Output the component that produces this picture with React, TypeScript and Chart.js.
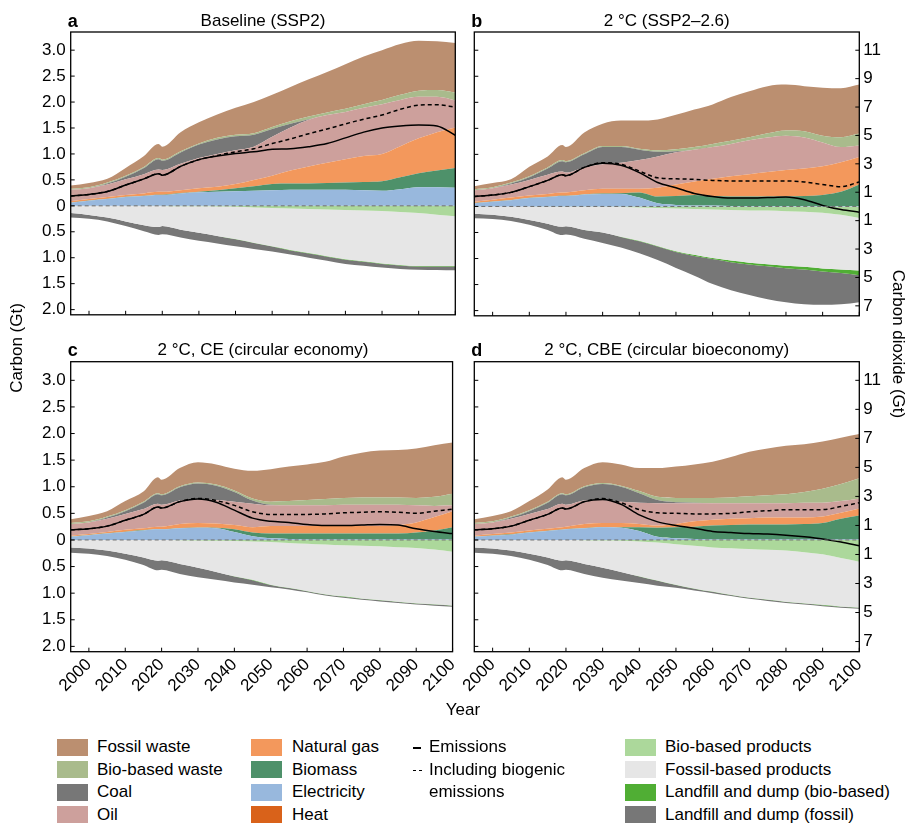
import React, { useEffect, useRef } from 'react';
import { Chart, registerables } from 'chart.js';

Chart.register(...registerables);

const FONT = "'Liberation Sans', Arial, Helvetica, sans-serif";
Chart.defaults.font.family = FONT;

// ---------------- data ----------------
const years = [1995, 2000, 2005, 2010, 2015, 2019, 2020, 2025, 2030, 2035, 2040, 2045, 2050, 2055, 2060, 2065, 2070, 2075, 2080, 2085, 2090, 2095, 2100];
const yearTicks = [2000, 2010, 2020, 2030, 2040, 2050, 2060, 2070, 2080, 2090, 2100];
const carbonTicks = [3, 2.5, 2, 1.5, 1, 0.5, 0, -0.5, -1, -1.5, -2];
const co2Ticks = [11, 9, 7, 5, 3, 1, -1, -3, -5, -7];
const CO2_PER_C = 44 / 12;

// Panel a: Baseline (SSP2)
const aHeat = [0, 0, 0, 0, 0, 0, 0, 0, 0, 0, 0, 0, 0, 0, 0, 0, 0, 0, 0, 0, 0, 0, 0];
const aElectricity = [0.06, 0.10, 0.13, 0.17, 0.19, 0.21, 0.21, 0.24, 0.26, 0.27, 0.28, 0.29, 0.30, 0.31, 0.31, 0.31, 0.31, 0.30, 0.29, 0.32, 0.36, 0.36, 0.35];
const aBiomass = [0.005, 0.005, 0.005, 0.005, 0.005, 0.005, 0.005, 0.005, 0.01, 0.03, 0.06, 0.085, 0.12, 0.12, 0.12, 0.13, 0.14, 0.16, 0.185, 0.23, 0.27, 0.32, 0.38];
const aNaturalGas = [0.025, 0.025, 0.035, 0.035, 0.045, 0.055, 0.055, 0.055, 0.07, 0.07, 0.08, 0.125, 0.16, 0.25, 0.33, 0.39, 0.45, 0.50, 0.525, 0.60, 0.67, 0.74, 0.78];
const aOil = [0.22, 0.21, 0.24, 0.30, 0.37, 0.43, 0.42, 0.51, 0.58, 0.63, 0.65, 0.64, 0.75, 0.83, 0.90, 0.92, 0.91, 0.93, 0.96, 0.89, 0.80, 0.68, 0.52];
const aCoal = [0, 0, 0.02, 0.05, 0.12, 0.20, 0.18, 0.22, 0.26, 0.28, 0.27, 0.23, 0.15, 0.07, 0.01, 0, 0, 0, 0, 0, 0, 0, 0];
const aBioWaste = [0.02, 0.02, 0.02, 0.02, 0.02, 0.02, 0.02, 0.02, 0.02, 0.03, 0.03, 0.03, 0.04, 0.05, 0.05, 0.05, 0.06, 0.07, 0.08, 0.10, 0.12, 0.13, 0.15];
const aFossilWaste = [0.06, 0.08, 0.07, 0.15, 0.21, 0.27, 0.25, 0.37, 0.41, 0.45, 0.52, 0.60, 0.62, 0.66, 0.72, 0.78, 0.86, 0.92, 0.96, 0.98, 0.96, 0.94, 0.96];
const aBioProducts = [0, 0, 0, 0, 0.005, 0.005, 0.005, 0.01, 0.01, 0.015, 0.02, 0.03, 0.04, 0.05, 0.06, 0.07, 0.08, 0.09, 0.10, 0.12, 0.14, 0.17, 0.20];
const aFossilProducts = [0.14, 0.175, 0.225, 0.30, 0.37, 0.405, 0.385, 0.45, 0.51, 0.565, 0.62, 0.68, 0.74, 0.80, 0.85, 0.90, 0.95, 0.98, 1.01, 1.02, 1.02, 0.99, 0.96];
const aLandfillBio = [0, 0, 0, 0, 0, 0, 0, 0, 0, 0, 0.005, 0.005, 0.005, 0.01, 0.01, 0.01, 0.01, 0.01, 0.01, 0.01, 0.01, 0.01, 0.01];
const aLandfillFossil = [0.085, 0.075, 0.075, 0.09, 0.115, 0.15, 0.16, 0.15, 0.155, 0.145, 0.135, 0.115, 0.095, 0.08, 0.08, 0.08, 0.08, 0.075, 0.07, 0.065, 0.06, 0.065, 0.07];
const aEmissions = [0.19, 0.22, 0.275, 0.40, 0.52, 0.62, 0.59, 0.76, 0.89, 0.96, 1.01, 1.04, 1.09, 1.10, 1.14, 1.20, 1.31, 1.42, 1.50, 1.54, 1.56, 1.54, 1.36];
const aBiogenic = [0.19, 0.22, 0.275, 0.40, 0.52, 0.62, 0.59, 0.76, 0.89, 0.97, 1.04, 1.10, 1.20, 1.29, 1.39, 1.48, 1.58, 1.67, 1.75, 1.86, 1.94, 1.95, 1.90];

// Panel b: 2 °C (SSP2-2.6)
const bHeat = [0, 0, 0, 0, 0, 0, 0, 0, 0, 0, 0, 0, 0, 0, 0, 0, 0, 0, 0, 0, 0, 0, 0];
const bElectricity = [0.06, 0.09, 0.12, 0.16, 0.18, 0.20, 0.20, 0.23, 0.24, 0.24, 0.17, 0.06, 0.03, 0.02, 0.02, 0.01, 0.01, 0.01, 0.01, 0.01, 0.01, 0.01, 0.01];
const bBiomass = [0.005, 0.005, 0.005, 0.005, 0.005, 0.005, 0.005, 0.005, 0.01, 0.015, 0.10, 0.13, 0.17, 0.20, 0.18, 0.18, 0.18, 0.18, 0.18, 0.19, 0.21, 0.27, 0.41];
const bNaturalGas = [0.025, 0.035, 0.045, 0.045, 0.055, 0.065, 0.065, 0.075, 0.09, 0.085, 0.07, 0.17, 0.22, 0.26, 0.33, 0.39, 0.43, 0.47, 0.51, 0.53, 0.55, 0.57, 0.53];
const bOil = [0.22, 0.22, 0.25, 0.30, 0.37, 0.40, 0.38, 0.44, 0.47, 0.50, 0.55, 0.60, 0.62, 0.61, 0.61, 0.62, 0.65, 0.665, 0.66, 0.595, 0.46, 0.29, 0.22];
const bCoal = [0, 0, 0.02, 0.05, 0.12, 0.20, 0.20, 0.25, 0.33, 0.30, 0.20, 0.09, 0.02, 0, 0, 0, 0, 0, 0, 0, 0, 0, 0];
const bBioWaste = [0.02, 0.02, 0.02, 0.02, 0.02, 0.02, 0.02, 0.02, 0.02, 0.02, 0.02, 0.03, 0.04, 0.05, 0.06, 0.06, 0.06, 0.08, 0.10, 0.12, 0.13, 0.19, 0.23];
const bFossilWaste = [0.06, 0.08, 0.06, 0.18, 0.21, 0.29, 0.27, 0.40, 0.43, 0.49, 0.54, 0.59, 0.66, 0.72, 0.76, 0.84, 0.88, 0.905, 0.88, 0.865, 0.92, 0.94, 0.94];
const bBioProducts = [0, 0, 0, 0, 0.005, 0.005, 0.005, 0.005, 0.005, 0.01, 0.02, 0.03, 0.04, 0.05, 0.06, 0.07, 0.08, 0.08, 0.09, 0.10, 0.12, 0.16, 0.22];
const bFossilProducts = [0.14, 0.16, 0.20, 0.26, 0.325, 0.385, 0.375, 0.445, 0.495, 0.57, 0.64, 0.73, 0.82, 0.88, 0.93, 0.97, 1.00, 1.03, 1.05, 1.06, 1.07, 1.05, 1.01];
const bLandfillBio = [0, 0, 0, 0, 0, 0, 0, 0, 0, 0.005, 0.01, 0.01, 0.015, 0.02, 0.02, 0.03, 0.035, 0.04, 0.045, 0.05, 0.06, 0.07, 0.09];
const bLandfillFossil = [0.085, 0.08, 0.08, 0.09, 0.12, 0.16, 0.16, 0.17, 0.20, 0.205, 0.23, 0.26, 0.305, 0.38, 0.48, 0.54, 0.585, 0.63, 0.655, 0.67, 0.64, 0.60, 0.52];
const bEmissions = [0.19, 0.22, 0.27, 0.38, 0.50, 0.61, 0.59, 0.75, 0.83, 0.79, 0.65, 0.46, 0.36, 0.25, 0.19, 0.16, 0.16, 0.17, 0.18, 0.13, 0.02, -0.06, -0.11];
const bBiogenic = [0.19, 0.22, 0.27, 0.38, 0.50, 0.61, 0.59, 0.75, 0.84, 0.81, 0.68, 0.55, 0.53, 0.52, 0.50, 0.49, 0.49, 0.49, 0.49, 0.47, 0.42, 0.38, 0.47];

// Panel c: 2 °C, CE
const cHeat = [0, 0, 0, 0, 0, 0, 0, 0, 0, 0, 0, 0, 0, 0, 0, 0, 0, 0, 0, 0, 0, 0, 0];
const cElectricity = [0.06, 0.09, 0.12, 0.15, 0.18, 0.20, 0.20, 0.22, 0.23, 0.22, 0.15, 0.07, 0.03, 0.02, 0.01, 0.01, 0.01, 0.01, 0.01, 0.01, 0.01, 0.01, 0.01];
const cBiomass = [0.005, 0.005, 0.005, 0.005, 0.005, 0.005, 0.005, 0.005, 0.005, 0.01, 0.05, 0.07, 0.09, 0.10, 0.11, 0.11, 0.11, 0.11, 0.11, 0.11, 0.13, 0.17, 0.23];
const cNaturalGas = [0.015, 0.015, 0.025, 0.035, 0.035, 0.045, 0.045, 0.075, 0.085, 0.08, 0.08, 0.10, 0.14, 0.14, 0.14, 0.14, 0.14, 0.14, 0.14, 0.16, 0.19, 0.25, 0.30];
const cOil = [0.22, 0.22, 0.25, 0.30, 0.36, 0.43, 0.41, 0.44, 0.44, 0.44, 0.44, 0.44, 0.39, 0.39, 0.39, 0.39, 0.40, 0.40, 0.40, 0.38, 0.32, 0.21, 0.11];
const cCoal = [0, 0, 0.02, 0.05, 0.12, 0.18, 0.18, 0.25, 0.30, 0.27, 0.18, 0.06, 0.01, 0, 0, 0, 0, 0, 0, 0, 0, 0, 0];
const cBioWaste = [0.02, 0.02, 0.02, 0.02, 0.02, 0.02, 0.02, 0.02, 0.02, 0.02, 0.03, 0.04, 0.06, 0.08, 0.10, 0.12, 0.13, 0.14, 0.14, 0.14, 0.14, 0.17, 0.22];
const cFossilWaste = [0.07, 0.10, 0.10, 0.17, 0.19, 0.30, 0.27, 0.34, 0.38, 0.38, 0.41, 0.52, 0.61, 0.65, 0.67, 0.70, 0.78, 0.84, 0.88, 0.89, 0.93, 0.97, 0.96];
const cBioProducts = [0, 0, 0, 0, 0, 0, 0, 0.005, 0.01, 0.015, 0.02, 0.03, 0.04, 0.055, 0.07, 0.085, 0.10, 0.11, 0.12, 0.135, 0.15, 0.18, 0.22];
const cFossilProducts = [0.14, 0.16, 0.20, 0.26, 0.33, 0.39, 0.38, 0.445, 0.51, 0.585, 0.66, 0.72, 0.80, 0.845, 0.89, 0.935, 0.96, 0.99, 1.01, 1.025, 1.04, 1.03, 1.01];
const cLandfillBio = [0, 0, 0, 0, 0, 0, 0, 0, 0, 0, 0.005, 0.005, 0.005, 0.005, 0.005, 0.005, 0.005, 0.005, 0.005, 0.005, 0.005, 0.005, 0.005];
const cLandfillFossil = [0.10, 0.10, 0.10, 0.11, 0.14, 0.18, 0.18, 0.19, 0.18, 0.15, 0.115, 0.085, 0.045, 0.025, 0.02, 0.02, 0.02, 0.02, 0.02, 0.02, 0.02, 0.02, 0.02];
const cEmissions = [0.19, 0.21, 0.26, 0.37, 0.48, 0.62, 0.60, 0.72, 0.77, 0.71, 0.56, 0.41, 0.35, 0.33, 0.29, 0.27, 0.27, 0.28, 0.29, 0.28, 0.21, 0.16, 0.12];
const cBiogenic = [0.19, 0.21, 0.26, 0.37, 0.48, 0.62, 0.60, 0.72, 0.78, 0.74, 0.65, 0.53, 0.48, 0.48, 0.48, 0.49, 0.51, 0.52, 0.53, 0.52, 0.50, 0.54, 0.58];

// Panel d: 2 °C, CBE
const dHeat = [0, 0, 0, 0, 0, 0, 0, 0, 0, 0, 0, 0, 0, 0, 0, 0, 0, 0, 0, 0, 0, 0, 0];
const dElectricity = [0.06, 0.08, 0.10, 0.14, 0.17, 0.19, 0.20, 0.22, 0.24, 0.23, 0.17, 0.06, 0.03, 0.02, 0.01, 0.01, 0.01, 0.01, 0.01, 0.01, 0.01, 0.01, 0.01];
const dBiomass = [0.005, 0.005, 0.005, 0.005, 0.005, 0.005, 0.005, 0.005, 0.005, 0.01, 0.07, 0.17, 0.21, 0.23, 0.26, 0.27, 0.28, 0.28, 0.28, 0.29, 0.31, 0.39, 0.45];
const dNaturalGas = [0.015, 0.025, 0.035, 0.035, 0.035, 0.045, 0.045, 0.075, 0.075, 0.08, 0.06, 0.04, 0.06, 0.10, 0.11, 0.12, 0.12, 0.13, 0.13, 0.12, 0.12, 0.11, 0.13];
const dOil = [0.22, 0.22, 0.26, 0.31, 0.37, 0.44, 0.41, 0.44, 0.43, 0.40, 0.40, 0.42, 0.39, 0.34, 0.31, 0.29, 0.28, 0.27, 0.27, 0.28, 0.26, 0.22, 0.19];
const dCoal = [0, 0, 0.02, 0.05, 0.12, 0.18, 0.18, 0.25, 0.30, 0.28, 0.18, 0.06, 0.02, 0.01, 0, 0, 0, 0, 0, 0, 0, 0, 0];
const dBioWaste = [0.02, 0.02, 0.02, 0.02, 0.02, 0.02, 0.02, 0.02, 0.02, 0.02, 0.04, 0.06, 0.08, 0.09, 0.10, 0.11, 0.13, 0.15, 0.17, 0.20, 0.26, 0.32, 0.38];
const dFossilWaste = [0.07, 0.10, 0.10, 0.17, 0.23, 0.30, 0.27, 0.34, 0.39, 0.40, 0.43, 0.54, 0.59, 0.63, 0.68, 0.76, 0.84, 0.88, 0.91, 0.90, 0.89, 0.87, 0.83];
const dBioProducts = [0, 0, 0, 0, 0, 0, 0, 0.005, 0.01, 0.015, 0.03, 0.05, 0.08, 0.11, 0.14, 0.155, 0.17, 0.185, 0.20, 0.23, 0.27, 0.34, 0.41];
const dFossilProducts = [0.14, 0.16, 0.20, 0.26, 0.33, 0.39, 0.38, 0.445, 0.51, 0.585, 0.65, 0.71, 0.76, 0.80, 0.83, 0.875, 0.91, 0.935, 0.96, 0.96, 0.95, 0.91, 0.86];
const dLandfillBio = [0, 0, 0, 0, 0, 0, 0, 0, 0, 0, 0.005, 0.005, 0.005, 0.005, 0.005, 0.005, 0.005, 0.005, 0.005, 0.005, 0.005, 0.005, 0.005];
const dLandfillFossil = [0.10, 0.10, 0.10, 0.11, 0.14, 0.18, 0.18, 0.19, 0.19, 0.16, 0.125, 0.095, 0.055, 0.035, 0.025, 0.02, 0.02, 0.02, 0.02, 0.02, 0.02, 0.02, 0.02];
const dEmissions = [0.19, 0.21, 0.26, 0.37, 0.48, 0.60, 0.58, 0.72, 0.76, 0.67, 0.47, 0.34, 0.27, 0.22, 0.16, 0.14, 0.12, 0.11, 0.09, 0.06, 0.02, -0.04, -0.11];
const dBiogenic = [0.19, 0.21, 0.26, 0.37, 0.48, 0.60, 0.58, 0.72, 0.78, 0.70, 0.57, 0.51, 0.50, 0.49, 0.49, 0.50, 0.53, 0.55, 0.57, 0.57, 0.57, 0.63, 0.70];

// ---------------- styles ----------------
const COLORS: Record<string, string> = {
  'Fossil waste': '#bb8f70',
  'Bio-based waste': '#a9bb8c',
  'Coal': '#777777',
  'Oil': '#cda09c',
  'Natural gas': '#f3985c',
  'Biomass': '#4e916a',
  'Electricity': '#98b8dd',
  'Heat': '#d9621a',
  'Bio-based products': '#acd89b',
  'Fossil-based products': '#e6e6e6',
  'Landfill and dump (bio-based)': '#50ae34',
  'Landfill and dump (fossil)': '#777777',
};

const posNames = ['Heat', 'Electricity', 'Biomass', 'Natural gas', 'Oil', 'Coal', 'Bio-based waste', 'Fossil waste'];
const negNames = ['Bio-based products', 'Fossil-based products', 'Landfill and dump (bio-based)', 'Landfill and dump (fossil)'];

interface PanelCfg {
  id: string;
  title: string;
  pos: number[][];
  neg: number[][];
  emissions: number[];
  biogenic: number[];
  canvas: { left: number; top: number; w: number; h: number };
  padTop: number;
  padRight: number;
  yWidth: number;
  y2Width: number;
  xHeight: number;
  yLabels: boolean;
  xLabels: boolean;
  right: boolean;
  plotLeft: number;
  plotRight: number;
  titleTop: number;
}

const PANELS: PanelCfg[] = [
  {
    id: 'a', title: 'Baseline (SSP2)',
    pos: [aHeat, aElectricity, aBiomass, aNaturalGas, aOil, aCoal, aBioWaste, aFossilWaste],
    neg: [aBioProducts, aFossilProducts, aLandfillBio, aLandfillFossil],
    emissions: aEmissions, biogenic: aBiogenic,
    canvas: { left: 0, top: 0, w: 470, h: 330 },
    padTop: 32, padRight: 14.7, yWidth: 70.7, y2Width: 0, xHeight: 7,
    yLabels: true, xLabels: false, right: false, plotLeft: 70.7, plotRight: 455.3, titleTop: 11,
  },
  {
    id: 'b', title: '2 °C (SSP2–2.6)',
    pos: [bHeat, bElectricity, bBiomass, bNaturalGas, bOil, bCoal, bBioWaste, bFossilWaste],
    neg: [bBioProducts, bFossilProducts, bLandfillBio, bLandfillFossil],
    emissions: bEmissions, biogenic: bBiogenic,
    canvas: { left: 440, top: 0, w: 472, h: 330 },
    padTop: 32, padRight: 0, yWidth: 34.3, y2Width: 52.7, xHeight: 7,
    yLabels: false, xLabels: false, right: true, plotLeft: 474.3, plotRight: 859.3, titleTop: 11,
  },
  {
    id: 'c', title: '2 °C, CE (circular economy)',
    pos: [cHeat, cElectricity, cBiomass, cNaturalGas, cOil, cCoal, cBioWaste, cFossilWaste],
    neg: [cBioProducts, cFossilProducts, cLandfillBio, cLandfillFossil],
    emissions: cEmissions, biogenic: cBiogenic,
    canvas: { left: 0, top: 330, w: 470, h: 380 },
    padTop: 31.7, padRight: 14.7, yWidth: 70.7, y2Width: 0, xHeight: 58.3,
    yLabels: true, xLabels: true, right: false, plotLeft: 70.7, plotRight: 455.3, titleTop: 339.5,
  },
  {
    id: 'd', title: '2 °C, CBE (circular bioeconomy)',
    pos: [dHeat, dElectricity, dBiomass, dNaturalGas, dOil, dCoal, dBioWaste, dFossilWaste],
    neg: [dBioProducts, dFossilProducts, dLandfillBio, dLandfillFossil],
    emissions: dEmissions, biogenic: dBiogenic,
    canvas: { left: 440, top: 330, w: 472, h: 380 },
    padTop: 31.7, padRight: 0, yWidth: 34.3, y2Width: 52.7, xHeight: 58.3,
    yLabels: false, xLabels: true, right: true, plotLeft: 474.3, plotRight: 859.3, titleTop: 339.5,
  },
];

const framePlugin = {
  id: 'frameTicks',
  afterDatasetsDraw(chart: any) {
    const { ctx, chartArea } = chart;
    const { left, right, top, bottom } = chartArea;
    const xs = chart.scales.x;
    const ys = chart.scales.y;
    const y2 = chart.scales.y2;
    ctx.save();
    const y0 = ys.getPixelForValue(0);
    ctx.beginPath();
    ctx.setLineDash([4, 3]);
    ctx.strokeStyle = '#6e6e6e';
    ctx.lineWidth = 1;
    ctx.moveTo(left, y0);
    ctx.lineTo(right, y0);
    ctx.stroke();
    ctx.setLineDash([]);
    ctx.strokeStyle = '#000';
    ctx.lineWidth = 1;
    const L = 4;
    ctx.beginPath();
    xs.ticks.forEach((t: any) => {
      const p = xs.getPixelForValue(t.value);
      ctx.moveTo(p, bottom);
      ctx.lineTo(p, bottom - L);
    });
    ys.ticks.forEach((t: any) => {
      const p = ys.getPixelForValue(t.value);
      ctx.moveTo(left, p);
      ctx.lineTo(left + L, p);
    });
    if (y2) {
      y2.ticks.forEach((t: any) => {
        const p = y2.getPixelForValue(t.value);
        ctx.moveTo(right, p);
        ctx.lineTo(right - L, p);
      });
    }
    ctx.stroke();
    ctx.lineWidth = 1.3;
    ctx.strokeRect(left, top, right - left, bottom - top);
    ctx.restore();
  },
};

const Y_MIN = -2.1;
const Y_MAX = 3.35;

function Panel({ cfg }: { cfg: PanelCfg }) {
  const ref = useRef<HTMLCanvasElement>(null);
  useEffect(() => {
    const canvas = ref.current;
    if (!canvas) return;
    const datasets: any[] = [];
    posNames.forEach((name, i) => {
      datasets.push({
        label: name,
        data: years.map((yr, j) => ({ x: yr, y: cfg.pos[i][j] })),
        backgroundColor: COLORS[name],
        borderWidth: 0,
        pointRadius: 0,
        fill: i === 0 ? 'origin' : '-1',
        stack: 'pos',
        order: 2,
        cubicInterpolationMode: 'monotone',
      });
    });
    negNames.forEach((name, i) => {
      datasets.push({
        label: name,
        data: years.map((yr, j) => ({ x: yr, y: -cfg.neg[i][j] })),
        backgroundColor: COLORS[name],
        borderWidth: 0,
        pointRadius: 0,
        fill: i === 0 ? 'origin' : '-1',
        stack: 'neg',
        order: 2,
        cubicInterpolationMode: 'monotone',
      });
    });
    datasets.push({
      label: 'Emissions',
      data: years.map((yr, j) => ({ x: yr, y: cfg.emissions[j] })),
      borderColor: '#000',
      borderWidth: 1.5,
      pointRadius: 0,
      fill: false,
      stack: 'em1',
      order: 0,
      cubicInterpolationMode: 'monotone',
    });
    datasets.push({
      label: 'Including biogenic emissions',
      data: years.map((yr, j) => ({ x: yr, y: cfg.biogenic[j] })),
      borderColor: '#000',
      borderWidth: 1.5,
      borderDash: [4, 3],
      pointRadius: 0,
      fill: false,
      stack: 'em2',
      order: 0,
      cubicInterpolationMode: 'monotone',
    });

    const tickFont = { family: FONT, size: 17 };
    const scales: any = {
      x: {
        type: 'linear',
        min: 1995,
        max: 2100,
        grid: { display: false, drawTicks: false },
        border: { display: false },
        afterBuildTicks: (s: any) => { s.ticks = yearTicks.map((v) => ({ value: v })); },
        afterFit: (s: any) => { s.height = cfg.xHeight; },
        ticks: {
          display: cfg.xLabels,
          autoSkip: false,
          maxRotation: 45,
          minRotation: 45,
          padding: 3,
          font: tickFont,
          color: '#000',
          callback: (v: any) => String(v),
        },
      },
      y: {
        type: 'linear',
        position: 'left',
        stacked: true,
        min: Y_MIN,
        max: Y_MAX,
        grid: { display: false, drawTicks: false },
        border: { display: false },
        afterBuildTicks: (s: any) => { s.ticks = carbonTicks.map((v) => ({ value: v })); },
        afterFit: (s: any) => { s.width = cfg.yWidth; },
        ticks: {
          display: cfg.yLabels,
          autoSkip: false,
          padding: 5,
          font: tickFont,
          color: '#000',
          callback: (v: any) => (v === 0 ? '0' : Math.abs(v).toFixed(1)),
        },
      },
    };
    if (cfg.right) {
      scales.y2 = {
        type: 'linear',
        position: 'right',
        min: Y_MIN,
        max: Y_MAX,
        grid: { display: false, drawTicks: false },
        border: { display: false },
        afterBuildTicks: (s: any) => { s.ticks = co2Ticks.map((c) => ({ value: c / CO2_PER_C })); },
        afterFit: (s: any) => { s.width = cfg.y2Width; },
        ticks: {
          autoSkip: false,
          padding: 4,
          font: tickFont,
          color: '#000',
          callback: (v: any) => String(Math.abs(Math.round(v * CO2_PER_C))),
        },
      };
    }

    const chart = new Chart(canvas, {
      type: 'line',
      data: { datasets },
      options: {
        responsive: false,
        animation: false,
        devicePixelRatio: 1,
        events: [],
        layout: { padding: { top: cfg.padTop, right: cfg.padRight, bottom: 0, left: 0 } },
        plugins: { legend: { display: false }, tooltip: { enabled: false } },
        scales,
      } as any,
      plugins: [framePlugin as any],
    });
    return () => chart.destroy();
  }, [cfg]);

  const c = cfg.canvas;
  return (
    <canvas
      ref={ref}
      width={c.w}
      height={c.h}
      style={{ position: 'absolute', left: c.left, top: c.top, width: c.w, height: c.h }}
    />
  );
}

const legendCols = [
  { swatchX: 57, textX: 97, items: ['Fossil waste', 'Bio-based waste', 'Coal', 'Oil'] },
  { swatchX: 251, textX: 292, items: ['Natural gas', 'Biomass', 'Electricity', 'Heat'] },
  { swatchX: 625, textX: 665, items: ['Bio-based products', 'Fossil-based products', 'Landfill and dump (bio-based)', 'Landfill and dump (fossil)'] },
];
const legendRowY = [747, 769.5, 792, 814.5];

const textBase: React.CSSProperties = {
  position: 'absolute',
  fontSize: 17,
  lineHeight: '20px',
  whiteSpace: 'nowrap',
};

export default function App() {
  return (
    <div
      style={{
        position: 'absolute', left: 0, top: 0, width: 912, height: 823,
        background: '#fff', fontFamily: FONT, color: '#000', overflow: 'hidden',
      }}
    >
      {PANELS.map((p) => <Panel key={p.id} cfg={p} />)}
      {PANELS.map((p) => (
        <React.Fragment key={p.id + '-t'}>
          <div style={{ ...textBase, left: p.plotLeft - 3, top: p.titleTop, fontWeight: 'bold', fontSize: 18 }}>{p.id}</div>
          <div style={{ ...textBase, left: p.plotLeft, width: p.plotRight - p.plotLeft, top: p.titleTop, textAlign: 'center' }}>{p.title}</div>
        </React.Fragment>
      ))}
      <div style={{ ...textBase, left: 383, width: 160, top: 700, textAlign: 'center' }}>Year</div>
      <div
        style={{
          ...textBase, left: 17 - 80, top: 348 - 10, width: 160, textAlign: 'center',
          transform: 'rotate(-90deg)', transformOrigin: '50% 50%',
        }}
      >
        Carbon (Gt)
      </div>
      <div
        style={{
          ...textBase, left: 898 - 100, top: 344 - 10, width: 200, textAlign: 'center',
          transform: 'rotate(90deg)', transformOrigin: '50% 50%',
        }}
      >
        Carbon dioxide (Gt)
      </div>
      {legendCols.map((col, ci) =>
        col.items.map((name, ri) => (
          <React.Fragment key={`${ci}-${ri}`}>
            <div
              style={{
                position: 'absolute', left: col.swatchX, top: legendRowY[ri] - 8.5,
                width: 31, height: 17, background: COLORS[name],
              }}
            />
            <div style={{ ...textBase, left: col.textX, top: legendRowY[ri] - 10 }}>{name}</div>
          </React.Fragment>
        ))
      )}
      <div style={{ position: 'absolute', left: 413, top: legendRowY[0], width: 8, height: 1.5, background: '#000' }} />
      <div style={{ ...textBase, left: 429, top: legendRowY[0] - 10 }}>Emissions</div>
      <div style={{ position: 'absolute', left: 413, top: legendRowY[1], width: 3, height: 1.5, background: '#000' }} />
      <div style={{ position: 'absolute', left: 419, top: legendRowY[1], width: 3, height: 1.5, background: '#000' }} />
      <div style={{ ...textBase, left: 429, top: legendRowY[1] - 10 }}>Including biogenic</div>
      <div style={{ ...textBase, left: 429, top: legendRowY[2] - 10 }}>emissions</div>
    </div>
  );
}
